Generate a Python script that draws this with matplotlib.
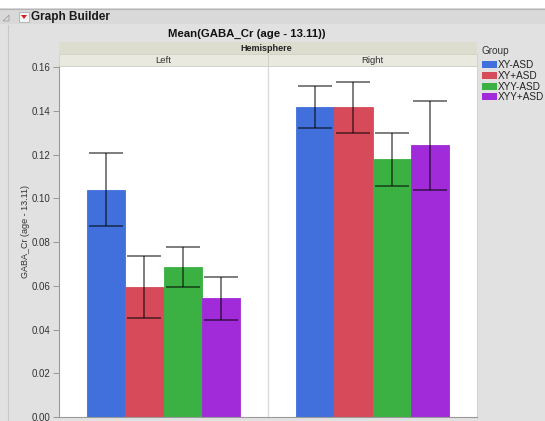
import numpy as np
import matplotlib
matplotlib.use("Agg")
import matplotlib.pyplot as plt
from matplotlib.patches import Rectangle, Polygon

plt.rcParams["font.family"] = ["Liberation Sans", "DejaVu Sans"]

# GABA/Cr means by hemisphere and group, with error bar limits
hemispheres = ["Left", "Right"]
groups = ["XY-ASD", "XY+ASD", "XYY-ASD", "XYY+ASD"]
colors = ["#4170dc", "#d64a5a", "#3bb143", "#a12bd9"]
means = {
    "Left":  [0.1040, 0.0596, 0.0688, 0.0543],
    "Right": [0.1417, 0.1416, 0.1180, 0.1242],
}
err_lo = {
    "Left":  [0.0873, 0.0453, 0.0596, 0.0443],
    "Right": [0.1320, 0.1298, 0.1058, 0.1038],
}
err_hi = {
    "Left":  [0.1206, 0.0737, 0.0777, 0.0642],
    "Right": [0.1515, 0.1532, 0.1300, 0.1444],
}
yticks = [0.00, 0.02, 0.04, 0.06, 0.08, 0.10, 0.12, 0.14, 0.16]

W, H = 545, 421
fig = plt.figure(figsize=(W / 100, H / 100), dpi=100)
fig.patch.set_facecolor("#e1e1e1")


def px(x, y):
    # pixel position (from top-left) -> figure fraction
    return x / W, 1 - y / H


def rect(x0, y0, x1, y1, **kw):
    fx, fy = px(x0, y1)
    fig.add_artist(Rectangle((fx, fy), (x1 - x0) / W, (y1 - y0) / H,
                             transform=fig.transFigure, **kw))


# outline header strip
rect(0, 0, W, 8, facecolor="white", edgecolor="none")
rect(0, 8, W, 24, facecolor="#d9d9d9", edgecolor="none")
fig.add_artist(plt.Line2D([0, 1], [1 - 8.5 / H] * 2, color="#b4b4b4", lw=0.8))
fig.add_artist(plt.Line2D([7.5 / W] * 2, [0, 1 - 25 / H], color="#c8c8c8", lw=0.8))
# disclosure triangle and red menu icon
fig.add_artist(Polygon([px(3, 21), px(9, 21), px(9, 15)], closed=True,
                       facecolor="none", edgecolor="#a0a0a0", lw=0.6,
                       transform=fig.transFigure))
rect(19, 12, 29, 22, facecolor="#f4f4f4", edgecolor="#b0b0b0", lw=0.6)
fig.add_artist(Polygon([px(21, 15), px(27, 15), px(24, 19)], closed=True,
                       facecolor="#d42020", edgecolor="none",
                       transform=fig.transFigure))
fig.text(*px(31, 17), "Graph Builder", fontsize=8.5, fontweight="bold",
         va="center", ha="left", color="#1a1a1a")

# chart title
fig.text(*px(247, 34), "Mean(GABA_Cr (age - 13.11))", fontsize=8.2,
         fontweight="bold", ha="center", va="center", color="#111111")

# facet header bands
left_px, mid_px, right_px = 59, 268, 477
rect(left_px, 42, right_px, 54, facecolor="#dcdccf", edgecolor="none")
fig.text(*px(266, 48.5), "Hemisphere", fontsize=6.5,
         fontweight="bold", ha="center", va="center", color="#222222")
for i, h in enumerate(hemispheres):
    x0 = left_px if i == 0 else mid_px
    x1 = mid_px if i == 0 else right_px
    rect(x0, 54, x1, 66, facecolor="#e9e9df", edgecolor="#d0d0c4", lw=0.6)
    fig.text(*px((x0 + x1) / 2, 60.5), h, fontsize=6.8, ha="center",
             va="center", color="#333333")

# plot area
ax_l, ax_b = px(left_px, 417)
ax = fig.add_axes([ax_l, ax_b, (right_px - left_px) / W, (417 - 66) / H])
ax.set_facecolor("white")

bar_w = 0.182
offsets = (np.arange(len(groups)) - 1.5) * bar_w
for i, h in enumerate(hemispheres):
    xs = i + 0.5 + offsets
    m = np.array(means[h])
    lo = m - np.array(err_lo[h])
    hi = np.array(err_hi[h]) - m
    ax.bar(xs, m, width=bar_w, color=colors, edgecolor=colors,
           linewidth=0.6, zorder=2)
    ax.errorbar(xs, m, yerr=[lo, hi], fmt="none", ecolor="black", alpha=0.55,
                elinewidth=1.3, capsize=12.5, capthick=1.3, zorder=3)

ax.axvline(1.0, color="#dcdcdc", lw=1.0, zorder=1)
ax.set_xlim(0, 2)
ax.set_ylim(0, 0.1605)
ax.set_xticks([])
ax.set_yticks(yticks)
ax.set_yticklabels([f"{t:.2f}" for t in yticks])
ax.tick_params(axis="y", labelsize=7, length=4, width=0.6,
               color="#8a8a8a", labelcolor="#333333", pad=2)
for side in ["top", "right"]:
    ax.spines[side].set_color("#cfcfcf")
    ax.spines[side].set_linewidth(0.6)
ax.spines["left"].set_color("#9a9a9a")
ax.spines["bottom"].set_color("#9a9a9a")
ax.spines["left"].set_linewidth(0.8)
ax.spines["bottom"].set_linewidth(0.8)

fig.text(*px(26, 231), "GABA_Cr (age - 13.11)", fontsize=6.5, rotation=90,
         ha="center", va="center", color="#333333")

# legend
fig.text(*px(482, 51), "Group", fontsize=7.2, ha="left", va="center",
         color="#333333")
for k, (g, c) in enumerate(zip(groups, colors)):
    y0 = 61 + k * 10.8
    rect(482, y0, 497, y0 + 7, facecolor=c, edgecolor="none")
    fig.text(*px(498, y0 + 4), g, fontsize=7.2, ha="left", va="center",
             color="#222222")

fig.savefig("out.png", dpi=100, facecolor=fig.get_facecolor())
